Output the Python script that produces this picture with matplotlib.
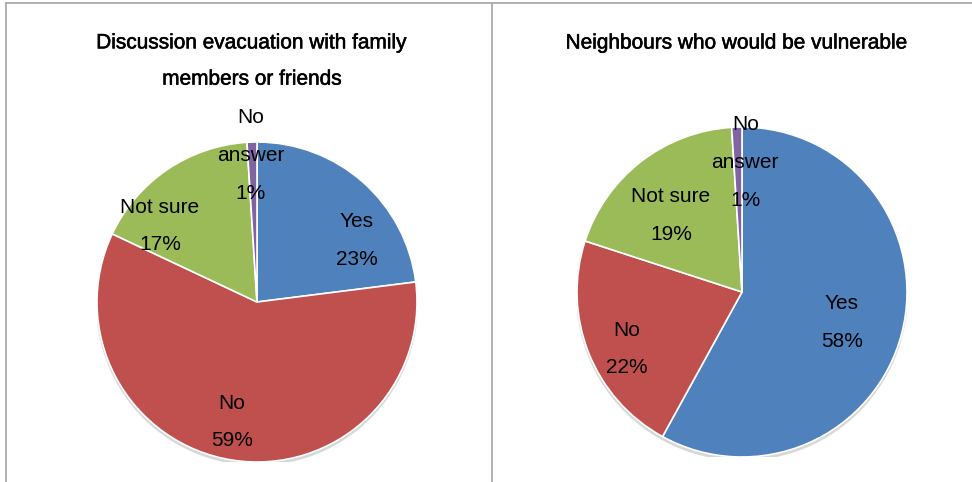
import matplotlib
matplotlib.use("Agg")
import matplotlib.pyplot as plt
import matplotlib.patheffects as pe
from matplotlib.lines import Line2D
from matplotlib.patches import Circle

plt.rcParams['font.family'] = ['Liberation Sans', 'DejaVu Sans']

categories = ["Yes", "No", "Not sure", "No\nanswer"]
colors = ["#4F81BD", "#C0504D", "#9BBB59", "#8064A2"]

discussion_title = "Discussion evacuation with family\nmembers or friends"
discussion_pct = [23, 59, 17, 1]

vulnerable_title = "Neighbours who would be vulnerable"
vulnerable_pct = [58, 22, 19, 1]

# label centres in pie units (radius = 1)
discussion_label_pos = [(0.625, 0.385), (-0.156, -0.75), (-0.606, 0.475), (-0.04, 0.915)]
vulnerable_label_pos = [(0.606, -0.185), (-0.70, -0.345), (-0.43, 0.465), (0.02, 0.785)]

W, H = 972, 482
fig = plt.figure(figsize=(W / 100, H / 100), dpi=100)
fig.patch.set_facecolor("white")


def draw_pie(cx, cy, r, values, label_pos):
    ax = fig.add_axes([(cx - r) / W, (H - cy - r) / H, 2 * r / W, 2 * r / H])
    # soft drop shadow under the pie
    for k, a in enumerate([0.05, 0.05, 0.06]):
        ax.add_patch(Circle((0.0, -0.012 - 0.006 * k), 1.0 + 0.004 * (2 - k),
                            color="black", alpha=a, lw=0, zorder=0))
    wedges, _ = ax.pie(values, colors=colors, startangle=90, counterclock=False,
                       radius=1.0,
                       wedgeprops=dict(edgecolor="white", linewidth=1.2))
    for w in wedges:
        w.set_zorder(2)
    for name, v, (x, y) in zip(categories, values, label_pos):
        ax.text(x, y, "%s\n%d%%" % (name, v), ha="center", va="center",
                fontsize=15, linespacing=2.25, color="black", zorder=5)
    ax.set_xlim(-1, 1)
    ax.set_ylim(-1, 1)
    ax.set_aspect("equal")
    ax.axis("off")
    return ax


draw_pie(257, 302, 160, discussion_pct, discussion_label_pos)
draw_pie(742, 292, 165, vulnerable_pct, vulnerable_label_pos)

# titles drawn slightly heavier than the labels
heavy = [pe.withStroke(linewidth=0.4, foreground="black")]
fig.text(252 / W, 1 - 61 / H, discussion_title, ha="center", va="center",
         fontsize=15, linespacing=2.15, path_effects=heavy)
fig.text(737 / W, 1 - 43 / H, vulnerable_title, ha="center", va="center",
         fontsize=15, path_effects=heavy)

# panel borders
line_kw = dict(color="#ABABAB", linewidth=1.3, transform=fig.transFigure)
fig.add_artist(Line2D([6 / W, 6 / W], [0, 1 - 3 / H], **line_kw))
fig.add_artist(Line2D([6 / W, 1], [1 - 3 / H, 1 - 3 / H], **line_kw))
fig.add_artist(Line2D([492 / W, 492 / W], [0, 1 - 3 / H], **line_kw))

fig.savefig("out.png", dpi=100)
